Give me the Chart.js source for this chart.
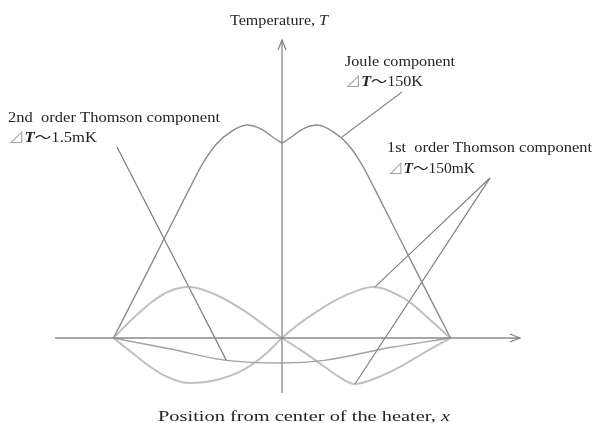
<!DOCTYPE html>
<html>
<head>
<meta charset="utf-8">
<script src="https://cdn.jsdelivr.net/npm/chart.js@4.4.0/dist/chart.umd.min.js"></script>
<style>
  body { margin: 0; background: #fff; }
  #wrap { width: 592px; height: 423px; position: relative; }
</style>
</head>
<body>
<div id="wrap"><canvas id="thermoChart"></canvas></div>
<script>
// x: position, heater edges at -1 / +1 ; y: temperature rise normalised to the Joule peak

// Joule component (cusp at the centre, so two halves)
const jouleLeftX  = [-1, -0.78, -0.55, -0.47, -0.39, -0.30, -0.21, -0.12, -0.05, 0];
const jouleLeftY  = [0, 0.34, 0.70, 0.82, 0.91, 0.97, 1.00, 0.98, 0.94, 0.915];
const jouleRightX = [0, 0.05, 0.12, 0.21, 0.30, 0.39, 0.47, 0.55, 0.78, 1];
const jouleRightY = [0.915, 0.94, 0.98, 1.00, 0.97, 0.91, 0.82, 0.70, 0.34, 0];

// 1st order Thomson component, both current directions
const thomson1aX = [-1, -0.88, -0.78, -0.68, -0.55, -0.39, -0.23, -0.09, 0, 0.11, 0.23, 0.33, 0.43, 0.56, 0.70, 0.85, 1];
const thomson1aY = [0, 0.095, 0.164, 0.216, 0.239, 0.202, 0.131, 0.052, 0, -0.056, -0.122, -0.178, -0.216, -0.188, -0.136, -0.066, 0];
const thomson1bX = [-1, -0.88, -0.78, -0.68, -0.55, -0.39, -0.23, -0.09, 0, 0.09, 0.18, 0.29, 0.39, 0.54, 0.74, 0.88, 1];
const thomson1bY = [0, -0.075, -0.136, -0.183, -0.211, -0.197, -0.150, -0.070, 0, 0.06, 0.11, 0.165, 0.205, 0.239, 0.178, 0.085, 0];

// 2nd order Thomson component
const thomson2X = [-1, -0.66, -0.33, 0, 0.25, 0.64, 1];
const thomson2Y = [0, -0.052, -0.105, -0.117, -0.105, -0.045, 0];

// axes (start, arrow tip)
const axisXRange = [-1.347, 1.412];
const axisYRange = [-0.258, 1.399];

// leader lines from the labels to the curves
const leaderJoule = [[0.356, 0.944], [0.712, 1.155]];
const leader1a    = [[1.234, 0.751], [0.55, 0.239]];
const leader1b    = [[1.234, 0.751], [0.433, -0.216]];
const leader2     = [[-0.979, 0.897], [-0.33, -0.105]];

function pts(xs, ys) {
  return xs.map((x, i) => ({ x: x, y: ys[i] }));
}
function seg(p) {
  return p.map(q => ({ x: q[0], y: q[1] }));
}

const serif = '"Liberation Serif", "Times New Roman", "Noto Sans CJK JP", serif';
const textCol = '#242424';

// draws text runs squeezed/stretched to a given width
function drawRuns(ctx, runs, x, y, width) {
  let natural = 0;
  runs.forEach(r => { ctx.font = r.font; natural += ctx.measureText(r.text).width; });
  ctx.save();
  ctx.translate(x, y);
  ctx.scale(width / natural, 1);
  ctx.textBaseline = 'alphabetic';
  let cx = 0;
  runs.forEach(r => {
    ctx.font = r.font;
    ctx.fillStyle = r.color || textCol;
    ctx.fillText(r.text, cx, 0);
    cx += ctx.measureText(r.text).width;
  });
  ctx.restore();
}

function deltaRuns(value) {
  return [
    { text: '⊿', font: '14px "Noto Sans CJK JP"', color: '#a8a8a8' },
    { text: 'T', font: 'italic bold 14px ' + serif },
    { text: '～' + value, font: '14px ' + serif }
  ];
}

const decorations = {
  id: 'decorations',
  afterDatasetsDraw(chart) {
    const ctx = chart.ctx;
    const sx = chart.scales.x, sy = chart.scales.y;

    // arrow heads
    ctx.save();
    ctx.strokeStyle = '#808080';
    ctx.lineWidth = 1.2;
    const tx = sx.getPixelForValue(axisXRange[1]), ty0 = sy.getPixelForValue(0);
    ctx.beginPath();
    ctx.moveTo(tx - 10, ty0 - 4); ctx.lineTo(tx, ty0); ctx.lineTo(tx - 10, ty0 + 4);
    ctx.stroke();
    const ux = sx.getPixelForValue(0), uy = sy.getPixelForValue(axisYRange[1]);
    ctx.beginPath();
    ctx.moveTo(ux - 4, uy + 10); ctx.lineTo(ux, uy); ctx.lineTo(ux + 4, uy + 10);
    ctx.stroke();
    ctx.restore();

    // labels
    drawRuns(ctx, [
      { text: 'Temperature, ', font: '15px ' + serif },
      { text: 'T', font: 'italic 15px ' + serif }
    ], 230, 25, 98);
    drawRuns(ctx, [
      { text: 'Position from center of the heater, ', font: '15px ' + serif },
      { text: 'x', font: 'italic 15px ' + serif }
    ], 158, 421, 292);

    drawRuns(ctx, [{ text: 'Joule component', font: '14px ' + serif }], 345, 66, 110);
    drawRuns(ctx, deltaRuns('150K'), 345, 86, 78);

    drawRuns(ctx, [{ text: '1st  order Thomson component', font: '14px ' + serif }], 387, 152, 205);
    drawRuns(ctx, deltaRuns('150mK'), 388, 173, 87);

    drawRuns(ctx, [{ text: '2nd  order Thomson component', font: '14px ' + serif }], 8, 122, 212);
    drawRuns(ctx, deltaRuns('1.5mK'), 8, 142, 89);
  }
};

function lineSet(data, color, width, extra) {
  return Object.assign({
    data: data,
    showLine: true,
    borderColor: color,
    borderWidth: width,
    pointRadius: 0,
    fill: false,
    cubicInterpolationMode: 'monotone'
  }, extra || {});
}

new Chart(document.getElementById('thermoChart'), {
  type: 'scatter',
  data: {
    datasets: [
      lineSet(seg([[axisXRange[0], 0], [axisXRange[1], 0]]), '#8a8a8a', 1.3),
      lineSet(seg([[0, axisYRange[0]], [0, axisYRange[1]]]), '#8a8a8a', 1.3),
      lineSet(pts(thomson1aX, thomson1aY), 'rgba(165,165,165,0.7)', 2),
      lineSet(pts(thomson1bX, thomson1bY), 'rgba(165,165,165,0.7)', 2),
      lineSet(pts(thomson2X, thomson2Y), 'rgba(140,140,140,0.8)', 1.5),
      lineSet(pts(jouleLeftX, jouleLeftY), '#8c8c8c', 1.4),
      lineSet(pts(jouleRightX, jouleRightY), '#8c8c8c', 1.4),
      lineSet(seg(leaderJoule), '#8a8a8a', 1.2),
      lineSet(seg(leader1a), '#808080', 1.2),
      lineSet(seg(leader1b), '#808080', 1.2),
      lineSet(seg(leader2), '#7a7a7a', 1.2)
    ]
  },
  options: {
    responsive: true,
    maintainAspectRatio: false,
    animation: false,
    layout: { padding: 0 },
    plugins: {
      legend: { display: false },
      tooltip: { enabled: false }
    },
    scales: {
      x: { type: 'linear', display: false, min: -1.6736, max: 1.8398 },
      y: { type: 'linear', display: false, min: -0.399, max: 1.5869 }
    }
  },
  plugins: [decorations]
});
</script>
</body>
</html>
